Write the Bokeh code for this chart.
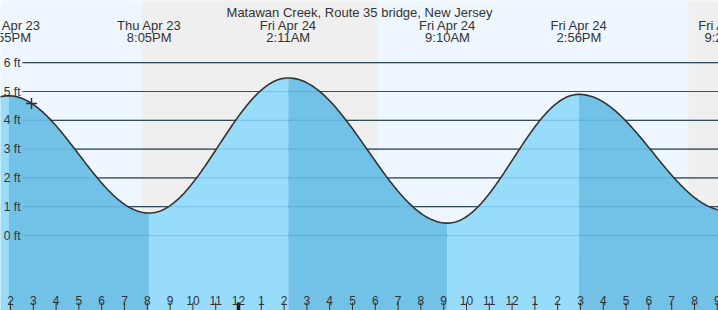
import numpy as np
from bokeh.plotting import figure
from bokeh.models import Label
from bokeh.core.properties import value
from bokeh.embed import file_html
from bokeh.resources import INLINE

# ---- data (hours counted from 2PM Thu Apr 23) ----
title = "Matawan Creek, Route 35 bridge, New Jersey"
ext_times = [-6.40, -0.083, 6.083, 12.183, 19.167, 24.933, 31.417]
ext_heights = [0.60, 4.85, 0.78, 5.47, 0.43, 4.90, 0.86]
ext_day = ["", "Thu Apr 23", "Thu Apr 23", "Fri Apr 24", "Fri Apr 24", "Fri Apr 24", "Fri Apr 24"]
ext_clock = ["", "1:55PM", "8:05PM", "2:11AM", "9:10AM", "2:56PM", "9:25PM"]
night_start = [5.75, 29.74]
night_end = [16.08, 40.0]
hour_ticks = list(range(0, 32))
hour_labels = ["2", "3", "4", "5", "6", "7", "8", "9", "10", "11", "12",
               "1", "2", "3", "4", "5", "6", "7", "8", "9", "10", "11", "12",
               "1", "2", "3", "4", "5", "6", "7", "8", "9"]
midnight = 10
ft_levels = [0, 1, 2, 3, 4, 5, 6]
ft_labels = ["0 ft", "1 ft", "2 ft", "3 ft", "4 ft", "5 ft", "6 ft"]
now_time = 0.92
now_height = 4.58

# ---- layout ----
W, H = 718, 310
PXH = 22.8   # px per hour
PXF = 28.8   # px per ft
X0 = 10      # px of hour 0
Y0 = 235     # px of 0 ft
def tx(px): return (px - X0) / PXH
def ty(py): return (Y0 - py) / PXF

FONT = value("Liberation Sans")
TXT = "#333333"
DAY = "#eef7ff"
NIGHT = "#efefef"
RISE = "#98dcfc"
FALL = "#72c1e6"

p = figure(width=W, height=H, x_range=(tx(0), tx(W)), y_range=(ty(H), ty(0)),
           min_border=0, toolbar_location=None, output_backend="svg")
p.axis.visible = False
p.grid.visible = False
p.outline_line_color = None
p.background_fill_color = DAY
p.border_fill_color = DAY

# night shading
p.quad(left=night_start, right=night_end, bottom=ty(H) - 1, top=ty(0) + 1,
       fill_color=NIGHT, line_color=None)

# dark grid lines
gx = [tx(22), tx(W) + 1]
for lv in ft_levels:
    p.line(gx, [lv, lv], line_color="#333333", line_width=1.2)

# water fill per segment + curve
bottom = ty(H) - 1
allx, ally = [], []
for i in range(len(ext_times) - 1):
    t1, t2 = ext_times[i], ext_times[i + 1]
    h1, h2 = ext_heights[i], ext_heights[i + 1]
    ts = np.linspace(t1, t2, 120)
    hs = h1 + (h2 - h1) * (1 - np.cos(np.pi * (ts - t1) / (t2 - t1))) / 2
    col = RISE if h2 > h1 else FALL
    xs = list(ts) + [t2, t1]
    ys = list(hs) + [bottom, bottom]
    p.patch(xs, ys, fill_color=col, line_color=None)
    allx += list(ts)
    ally += list(hs)

# grid lines seen through water
for lv in ft_levels:
    p.line(gx, [lv, lv], line_color="#3d8fc0", line_alpha=0.35, line_width=1)

p.line(allx, ally, line_color="#333333", line_width=1.6)

# current marker
p.scatter([now_time], [now_height], marker="cross", size=11,
          line_color="#333333", line_width=1.5)

# y labels
p.text(x=[tx(20)] * len(ft_levels), y=ft_levels, text=ft_labels,
       text_font=FONT, text_font_size="12px", text_color=TXT,
       text_align="right", text_baseline="middle")

# hour labels and ticks
p.text(x=hour_ticks, y=[ty(300)] * len(hour_ticks), text=hour_labels,
       text_font=FONT, text_font_size="12px", text_color=TXT,
       text_align="center", text_baseline="alphabetic")
p.segment(x0=hour_ticks, y0=[ty(302)] * len(hour_ticks),
          x1=hour_ticks, y1=[ty(H) - 0.2] * len(hour_ticks),
          line_color="#333333", line_width=1)
p.segment(x0=[midnight], y0=[ty(302)], x1=[midnight], y1=[ty(H) - 0.2],
          line_color="#222222", line_width=3.5)

# extreme labels
et = ext_times[1:]
p.text(x=et, y=[ty(25)] * len(et), text=ext_day[1:],
       text_font=FONT, text_font_size="13px", text_color=TXT,
       text_align="center", text_baseline="alphabetic")
p.text(x=et, y=[ty(36.5)] * len(et), text=ext_clock[1:],
       text_font=FONT, text_font_size="13px", text_color=TXT,
       text_align="center", text_baseline="alphabetic")

# title
p.add_layout(Label(x=(tx(0) + tx(W)) / 2, y=ty(12), text=title,
                   text_font="Liberation Sans", text_font_size="13px",
                   text_color=TXT, text_align="center",
                   text_baseline="alphabetic"))

open("out.html", "w").write(file_html(p, INLINE))
